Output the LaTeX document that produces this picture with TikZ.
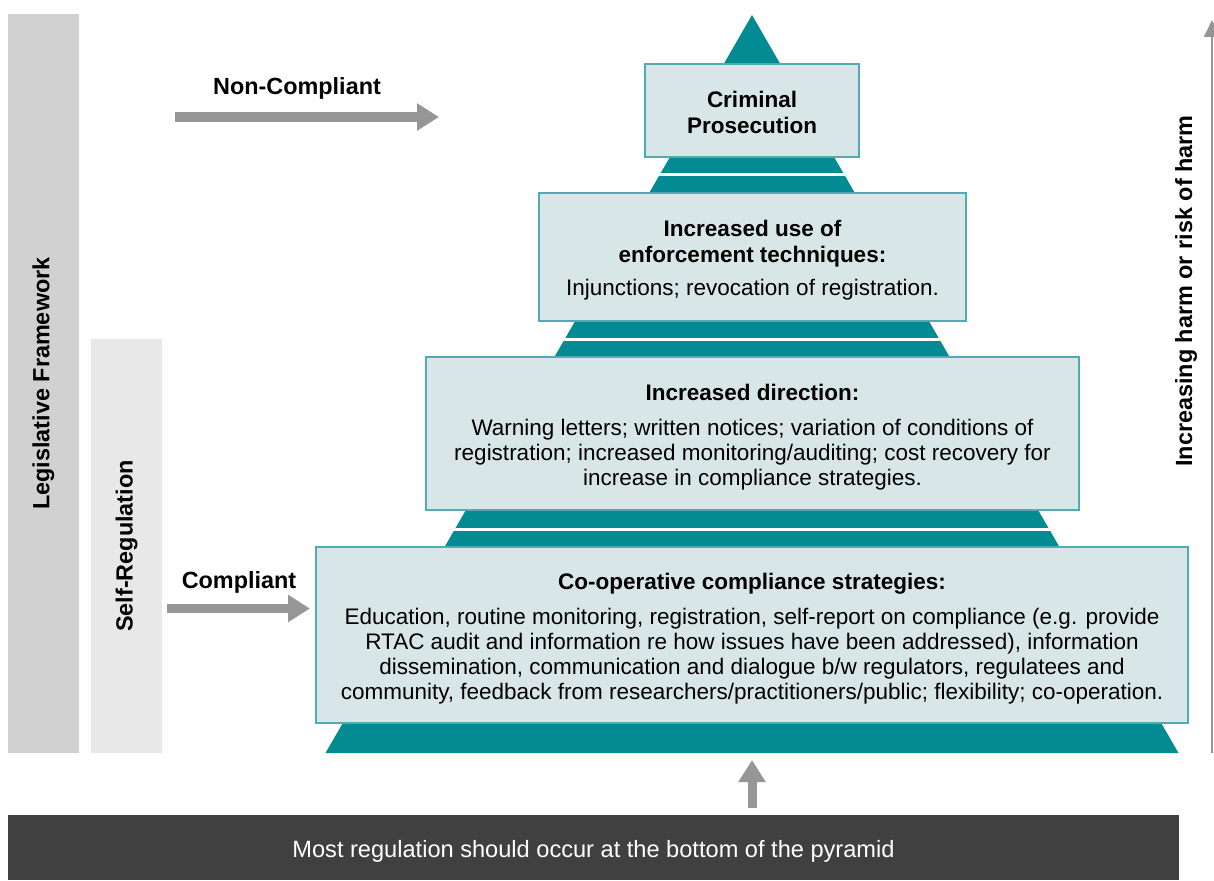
\documentclass[tikz,border=0pt]{standalone}
\usepackage{fontspec}
\setmainfont{Liberation Sans}
\usetikzlibrary{arrows.meta}
\definecolor{pyr}{RGB}{3,139,147}
\definecolor{boxfill}{RGB}{217,230,232}
\definecolor{boxline}{RGB}{82,170,178}
\definecolor{legis}{RGB}{209,209,209}
\definecolor{selfreg}{RGB}{232,232,232}
\definecolor{agrey}{RGB}{150,150,150}
\definecolor{darkbar}{RGB}{64,64,64}
\newcommand{\firststrut}{\rule{0pt}{24pt}}
\begin{document}
\begin{tikzpicture}[x=1pt,y=-1pt,
  box/.style={draw=boxline, line width=1.3pt, fill=boxfill, inner sep=0pt},
  boxtext/.style={inner sep=0pt, anchor=north, align=center},
  bar/.style={inner sep=0pt, rotate=90, font=\fontsize{23.4}{28}\selectfont\bfseries},
  lbl/.style={inner sep=0pt, anchor=base, font=\fontsize{23.4}{28}\selectfont\bfseries},
  bigarrow/.style={draw=agrey, line width=9pt, -{Triangle[length=22pt,width=26pt]}},
  gap/.style={draw=white, line width=3pt}]
\useasboundingbox (0,0) rectangle (1214,880);
% side bars
\node[bar, fill=legis, minimum width=739pt, minimum height=71pt] (legis) at (43.5,383.5) {Legislative Framework};
\node[bar, fill=selfreg, minimum width=414pt, minimum height=71pt] (selfreg) at (126.5,546) {Self-Regulation};
% pyramid
\fill[pyr] (752,15) -- (1178.5,753) -- (325.5,753) -- cycle;
\begin{scope}
  \clip (752,15) -- (1178.5,753) -- (325.5,753) -- cycle;
  \draw[gap] (300,174) -- (1200,174);
  \draw[gap] (300,339) -- (1200,339);
  \draw[gap] (300,529.5) -- (1200,529.5);
\end{scope}
% boxes
\node[box, minimum width=214pt, minimum height=93pt] (b1) at (752,110.5) {};
\node[boxtext, font=\fontsize{22.5}{26}\selectfont\bfseries] (t1) at (752,83)
  {\firststrut Criminal\\Prosecution};
\node[box, minimum width=427pt, minimum height=128pt] (b2) at (752.5,257) {};
\node[boxtext, font=\fontsize{22.5}{26}\selectfont] (t2) at (752.5,212)
  {\firststrut\bfseries Increased use of\\\bfseries enforcement techniques:\\[7pt]Injunctions; revocation of registration.};
\node[box, minimum width=653pt, minimum height=153pt] (b3) at (752.5,433.5) {};
\node[boxtext, font=\fontsize{22.5}{25}\selectfont] (t3) at (752.5,376)
  {\firststrut\bfseries Increased direction:\\[10pt]Warning letters; written notices; variation of conditions of\\registration; increased monitoring/auditing; cost recovery for\\increase in compliance strategies.};
\node[box, minimum width=872pt, minimum height=176pt] (b4) at (752,635) {};
\node[boxtext, font=\fontsize{22.5}{25}\selectfont] (t4) at (752,565)
  {\firststrut\bfseries Co-operative compliance strategies:\\[10pt]Education, routine monitoring, registration, self-report on compliance (e.g. provide\\RTAC audit and information re how issues have been addressed), information\\dissemination, communication and dialogue b/w regulators, regulatees and\\community, feedback from researchers/practitioners/public; flexibility; co-operation.};
% labels and arrows
\node[lbl] (noncomp) at (297,95) {Non-Compliant};
\coordinate (nc1) at (175,117);
\coordinate (nc2) at (439,117);
\draw[bigarrow] (nc1) -- (nc2);
\node[lbl] (comp) at (239,588) {Compliant};
\coordinate (c1) at (167,608.5);
\coordinate (c2) at (310,608.5);
\draw[bigarrow] (c1) -- (c2);
% bottom bar
\node[fill=darkbar, minimum width=1171pt, minimum height=65pt, inner sep=0pt] (bottom) at (593.5,847.5) {};
\node[inner sep=0pt, anchor=base, text=white, font=\fontsize{23.6}{27}\selectfont] (bottomtext) at (593.5,857)
  {Most regulation should occur at the bottom of the pyramid};
\coordinate (up1) at (752,808);
\coordinate (up2) at (752,760);
\draw[bigarrow] (up1) -- (up2);
% right arrow
\coordinate (h1) at (1212,753);
\coordinate (h2) at (1212,20);
\draw[draw=agrey, line width=2pt, -{Triangle[length=17pt,width=16pt]}] (h1) -- (h2);
\node[bar] (harm) at (1186,291) {Increasing harm or risk of harm};
\end{tikzpicture}
\end{document}
